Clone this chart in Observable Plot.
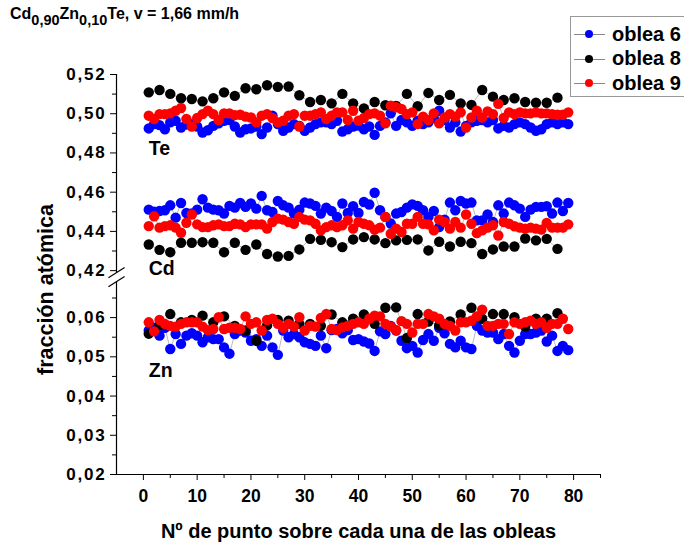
<!DOCTYPE html>
<html><head><meta charset="utf-8">
<script src="https://cdn.jsdelivr.net/npm/d3@7"></script>
<script src="https://cdn.jsdelivr.net/npm/@observablehq/plot@0.6"></script>
<style>
body{margin:0;background:#fff;}
#wrap{position:relative;width:684px;height:544px;overflow:hidden;font-family:"Liberation Sans",Arial,sans-serif;font-weight:bold;color:#000;}
#title{position:absolute;left:10px;top:5px;font-size:16px;white-space:nowrap;}
#title sub{font-size:14.5px;vertical-align:-6px;line-height:0;}
#legend{position:absolute;left:570px;top:16px;width:130px;height:79px;border:1px solid #999;background:#fff;}
.item{position:absolute;left:0;height:24px;display:flex;align-items:center;font-size:20px;white-space:nowrap;}
.sym{position:relative;width:31px;height:10px;margin-left:3px;margin-right:7px;}
.sym .ln{position:absolute;left:0;right:0;top:5px;height:1px;background:#888;}
.sym .dt{position:absolute;left:11px;top:1px;width:8px;height:8px;border-radius:50%;}
#chart{position:absolute;left:0;top:0;}
#chart g[aria-label="y-axis tick label"] text{letter-spacing:1.8px;}
</style></head>
<body>
<div id="wrap">
  <div id="chart"></div>
  <div id="title">Cd<sub>0,90</sub>Zn<sub>0,10</sub>Te, v = 1,66 mm/h</div>
  <div id="legend"></div>
</div>
<script>
// ---------- data ----------
const wafers = ["oblea 6", "oblea 8", "oblea 9"];
const waferColors = ["#0000ff", "#000000", "#ff0000"];
const elements = ["Te", "Cd", "Zn"];
const pointsDense = d3.range(1, 80);      // nº de punto 1..79 (obleas 6 y 9)
const pointsSparse = d3.range(1, 78, 2);  // nº de punto 1,3,..,77 (oblea 8)

const te6 = [0.4925,0.4947,0.4942,0.4921,0.4956,0.4964,0.4930,0.4945,0.4947,0.4935,0.4904,0.4916,0.4938,0.4951,0.4964,0.4968,0.4935,0.4904,0.4921,0.4925,0.4935,0.4896,0.4930,0.4990,0.4947,0.4913,0.4930,0.4947,0.4938,0.4913,0.4930,0.4947,0.4956,0.4956,0.4947,0.4964,
 0.4909,0.4921,0.4935,0.4940,0.4921,0.4935,0.4892,0.4938,0.4956,0.5002,0.4938,0.4968,0.4956,0.4938,0.4964,0.4947,0.4956,0.4978,0.5015,0.4968,0.4930,0.4956,0.4909,0.4938,0.4956,0.4964,0.4968,0.4956,0.4968,0.4925,0.4938,0.4930,0.4947,0.4956,0.4947,0.4930,0.4913,0.4921,0.4947,0.4956,0.4947,0.4956,0.4947];
const te8 = [0.5109,0.5121,0.5101,0.5079,0.5075,0.5063,0.5079,0.5109,0.5091,0.5130,0.5125,0.5145,0.5137,0.5139,0.5094,0.5060,0.5070,0.5053,0.5101,0.5053,0.5027,0.5060,0.5043,0.5040,0.5101,0.5038,0.5106,0.5070,0.5096,0.5053,0.5045,0.5121,0.5087,0.5070,0.5079,0.5060,0.5056,0.5056,0.5082];
const te9 = [0.4990,0.4973,0.4998,0.4998,0.5002,0.5015,0.5029,0.4973,0.4935,0.4978,0.4998,0.5015,0.4998,0.4968,0.5002,0.5002,0.4993,0.4995,0.4985,0.4981,0.4956,0.4990,0.4998,0.4978,0.4956,0.4964,0.4990,0.4998,0.4935,0.4990,0.4990,0.4998,0.5007,0.4973,0.4990,0.5007,
 0.5007,0.4968,0.5015,0.4964,0.4978,0.4998,0.5002,0.4990,0.4951,0.5041,0.5033,0.5024,0.4998,0.5007,0.4947,0.4985,0.4968,0.5002,0.4951,0.4981,0.4998,0.4985,0.5007,0.4930,0.4981,0.5015,0.4981,0.5012,0.4998,0.5050,0.4978,0.5007,0.4998,0.5007,0.5002,0.5002,0.5007,0.5002,0.5002,0.4998,0.4995,0.4995,0.5007];

const cd6 = [0.4511,0.4500,0.4504,0.4508,0.4533,0.4470,0.4545,0.4494,0.4491,0.4511,0.4564,0.4521,0.4511,0.4508,0.4491,0.4530,0.4521,0.4545,0.4525,0.4542,0.4516,0.4581,0.4508,0.4499,0.4555,0.4533,0.4521,0.4491,0.4511,0.4547,0.4542,0.4530,0.4491,0.4521,0.4504,0.4474,
 0.4542,0.4494,0.4528,0.4494,0.4550,0.4537,0.4597,0.4508,0.4474,0.4440,0.4491,0.4499,0.4521,0.4538,0.4530,0.4508,0.4474,0.4504,0.4422,0.4460,0.4547,0.4508,0.4555,0.4542,0.4547,0.4456,0.4456,0.4486,0.4448,0.4533,0.4491,0.4547,0.4533,0.4516,0.4474,0.4511,0.4525,0.4525,0.4528,0.4491,0.4547,0.4504,0.4545];
const cd8 = [0.4333,0.4306,0.4294,0.4342,0.4342,0.4345,0.4342,0.4294,0.4342,0.4306,0.4333,0.4285,0.4272,0.4275,0.4308,0.4362,0.4357,0.4345,0.4320,0.4359,0.4371,0.4359,0.4340,0.4354,0.4357,0.4359,0.4303,0.4347,0.4323,0.4347,0.4340,0.4285,0.4308,0.4323,0.4323,0.4364,0.4354,0.4362,0.4311];
const cd9 = [0.4427,0.4477,0.4419,0.4427,0.4431,0.4419,0.4393,0.4444,0.4486,0.4436,0.4422,0.4422,0.4431,0.4436,0.4427,0.4427,0.4439,0.4436,0.4422,0.4436,0.4436,0.4436,0.4414,0.4448,0.4465,0.4460,0.4448,0.4439,0.4474,0.4460,0.4456,0.4439,0.4405,0.4422,0.4431,0.4422,
 0.4431,0.4456,0.4414,0.4448,0.4439,0.4431,0.4409,0.4419,0.4474,0.4388,0.4414,0.4397,0.4439,0.4439,0.4474,0.4439,0.4436,0.4405,0.4460,0.4448,0.4414,0.4448,0.4419,0.4486,0.4439,0.4391,0.4405,0.4419,0.4431,0.4379,0.4448,0.4439,0.4426,0.4419,0.4414,0.4419,0.4414,0.4409,0.4443,0.4419,0.4419,0.4419,0.4436];

const zn6 = [0.0567,0.0574,0.0554,0.0574,0.0520,0.0558,0.0533,0.0554,0.0560,0.0554,0.0537,0.0550,0.0545,0.0545,0.0524,0.0508,0.0558,0.0567,0.0562,0.0541,0.0545,0.0528,0.0554,0.0524,0.0505,0.0567,0.0550,0.0558,0.0550,0.0537,0.0533,0.0528,0.0554,0.0522,0.0568,0.0571,
 0.0560,0.0568,0.0543,0.0545,0.0539,0.0534,0.0515,0.0565,0.0558,0.0579,0.0567,0.0541,0.0522,0.0528,0.0511,0.0543,0.0558,0.0541,0.0574,0.0560,0.0533,0.0524,0.0541,0.0524,0.0520,0.0579,0.0567,0.0562,0.0562,0.0545,0.0558,0.0528,0.0511,0.0541,0.0558,0.0558,0.0562,0.0567,0.0539,0.0554,0.0515,0.0528,0.0517];
const zn8 = [0.0559,0.0580,0.0609,0.0588,0.0594,0.0605,0.0588,0.0603,0.0579,0.0567,0.0541,0.0580,0.0594,0.0592,0.0584,0.0584,0.0579,0.0608,0.0588,0.0597,0.0608,0.0584,0.0625,0.0626,0.0548,0.0609,0.0590,0.0580,0.0590,0.0608,0.0625,0.0597,0.0609,0.0609,0.0601,0.0577,0.0597,0.0597,0.0611];
const zn9 = [0.0588,0.0565,0.0594,0.0584,0.0579,0.0577,0.0584,0.0588,0.0588,0.0588,0.0577,0.0568,0.0571,0.0601,0.0571,0.0574,0.0574,0.0571,0.0603,0.0584,0.0588,0.0567,0.0594,0.0597,0.0584,0.0574,0.0584,0.0577,0.0601,0.0567,0.0579,0.0577,0.0599,0.0609,0.0571,0.0568,
 0.0575,0.0579,0.0584,0.0588,0.0584,0.0597,0.0605,0.0603,0.0584,0.0577,0.0568,0.0591,0.0584,0.0562,0.0584,0.0584,0.0609,0.0603,0.0597,0.0584,0.0579,0.0567,0.0588,0.0588,0.0592,0.0603,0.0620,0.0579,0.0579,0.0584,0.0584,0.0558,0.0588,0.0584,0.0588,0.0592,0.0584,0.0588,0.0574,0.0584,0.0584,0.0597,0.0571];

const xTicks = [0, 10, 20, 30, 40, 50, 60, 70, 80];
const xMinorTicks = [5, 15, 25, 35, 45, 55, 65, 75, 85];
const yTicksLower = [0.02, 0.03, 0.04, 0.05, 0.06];
const yTicksUpper = [0.42, 0.44, 0.46, 0.48, 0.50, 0.52];
const yMinorLower = [0.025, 0.035, 0.045, 0.055, 0.065];
const yMinorUpper = [0.43, 0.45, 0.47, 0.49, 0.51];
const xTitle = "Nº de punto sobre cada una de las obleas";
const yTitle = "fracción atómica";

// element annotations (data coordinates)
const elementLabelX = 1.0;
const elementLabelY = [0.4822, 0.4210, 0.0465];

// ---------- broken y axis: upper segment compressed 2:1 ----------
const upperMin = 0.42, upperBase = 0.071975, upperRatio = 0.5;
const T = v => v >= 0.3 ? upperBase + (v - upperMin) * upperRatio : v;
const breakY = T(upperMin);
const breakUpper = breakY - 0.0005;   // upper axis segment ends here
const breakLower = breakY - 0.0028;   // lower axis segment ends here

const series = [
  {w: 0, e: "Te", x: pointsDense, v: te6}, {w: 0, e: "Cd", x: pointsDense, v: cd6}, {w: 0, e: "Zn", x: pointsDense, v: zn6},
  {w: 1, e: "Te", x: pointsSparse, v: te8}, {w: 1, e: "Cd", x: pointsSparse, v: cd8}, {w: 1, e: "Zn", x: pointsSparse, v: zn8},
  {w: 2, e: "Te", x: pointsDense, v: te9}, {w: 2, e: "Cd", x: pointsDense, v: cd9}, {w: 2, e: "Zn", x: pointsDense, v: zn9}
];
const rows = series.flatMap(s => s.v.map((v, i) => ({
  wafer: wafers[s.w], series: wafers[s.w] + s.e, x: s.x[i], y: T(v)
})));

const fmt = v => d3.format(".2f")(v).replace(".", ",");
const majorT = [...yTicksLower, ...yTicksUpper].map(T);
const labelOf = new Map([...yTicksLower, ...yTicksUpper].map(v => [T(v), fmt(v)]));

const bold = {fontWeight: "bold"};

const plot = Plot.plot({
  width: 684, height: 544,
  marginLeft: 116, marginRight: 84, marginTop: 74, marginBottom: 70,
  style: {fontFamily: "'Liberation Sans', Arial, sans-serif", color: "#000", background: "#fff", overflow: "visible"},
  x: {domain: [-5, 85]},
  y: {domain: [0.02, T(0.52)]},
  color: {domain: wafers, range: waferColors},
  marks: [
    // axis lines
    Plot.ruleY([0.02], {stroke: "#000", strokeWidth: 1.2}),
    Plot.ruleX([-5], {y1: 0.02, y2: breakLower, stroke: "#000", strokeWidth: 1.2}),
    Plot.ruleX([-5], {y1: breakUpper, y2: T(0.52), stroke: "#000", strokeWidth: 1.2}),
    // axis break marks
    Plot.link([breakUpper, breakLower], {x1: -6.5, x2: -3.5, y1: d => d - 0.0013, y2: d => d + 0.0013, stroke: "#000", strokeWidth: 1.2}),
    // ticks
    Plot.axisX(xTicks, {label: null, tickSize: 6, tickPadding: 9, fontSize: 17.5, ...bold}),
    Plot.axisX(xMinorTicks, {label: null, tickSize: 4, text: null}),
    Plot.axisY(majorT, {label: null, tickSize: 6, tickPadding: 4, tickFormat: t => labelOf.get(t), fontSize: 17, ...bold}),
    Plot.axisY([...yMinorLower, ...yMinorUpper].map(T), {label: null, tickSize: 4, text: null}),
    // data
    Plot.line(rows, {x: "x", y: "y", z: "series", stroke: "#8a8a8a", strokeWidth: 0.6}),
    Plot.dot(rows, {x: "x", y: "y", r: 5.2, fill: "wafer", stroke: "none"}),
    // labels
    Plot.text(elements, {x: elementLabelX, y: (d, i) => T(elementLabelY[i]), text: d => d, textAnchor: "start", fontSize: 19.5, ...bold}),
    Plot.text([xTitle], {frameAnchor: "bottom", lineAnchor: "middle", dy: 57, fontSize: 20, ...bold}),
    Plot.text([yTitle], {frameAnchor: "left", textAnchor: "middle", lineAnchor: "middle", rotate: -90, dx: -70, dy: 15, fontSize: 21.5, ...bold})
  ]
});
document.getElementById("chart").appendChild(plot);

// legend
const legend = document.getElementById("legend");
wafers.forEach((w, i) => {
  const item = document.createElement("div");
  item.className = "item";
  item.style.top = (5 + i * 24.5) + "px";
  item.innerHTML = `<span class="sym"><span class="ln"></span><span class="dt" style="background:${waferColors[i]}"></span></span><span>${w}</span>`;
  legend.appendChild(item);
});
</script>
</body></html>
